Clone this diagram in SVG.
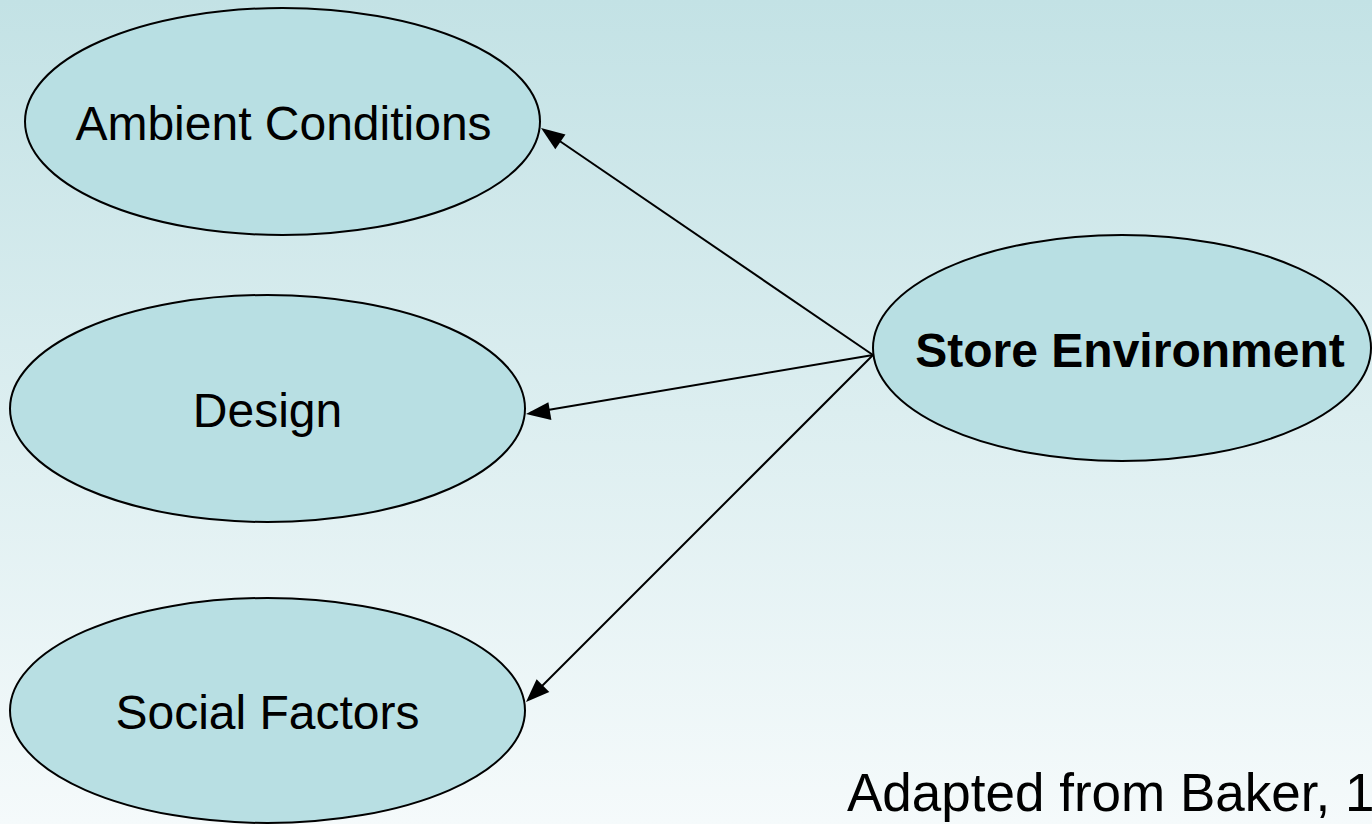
<svg xmlns="http://www.w3.org/2000/svg" width="1372" height="824" viewBox="0 0 1372 824">
<defs>
<linearGradient id="bg" x1="0" y1="0" x2="0" y2="1">
<stop offset="0" stop-color="#c3e2e5"/>
<stop offset="1" stop-color="#f5fafb"/>
</linearGradient>
<style>
.node{fill:#b8dfe3;stroke:#000;stroke-width:2}
.lbl{font-family:"Liberation Sans",Arial,sans-serif;font-size:48px;fill:#000;text-anchor:middle}
.edge{stroke:#000;stroke-width:2;fill:none}
.head{fill:#000}
</style>
</defs>
<rect width="1372" height="824" fill="url(#bg)"/>
<g id="connectors">
<line class="edge" x1="873" y1="355" x2="545" y2="131"/>
<line class="edge" x1="873" y1="355" x2="530" y2="413"/>
<line class="edge" x1="873" y1="355" x2="529" y2="699"/>
<path class="head" d="M541,128 L565.5,134.4 L555.3,149.3 z"/>
<path class="head" d="M526,414 L548.4,402.2 L551.4,420.0 z"/>
<path class="head" d="M526,702 L536.6,679.2 L549.3,691.9 z"/>
</g>
<g id="ambient">
<ellipse class="node" cx="282.5" cy="121.5" rx="257.5" ry="113.5"/>
<text class="lbl" x="283.5" y="140">Ambient Conditions</text>
</g>
<g id="design">
<ellipse class="node" cx="267.5" cy="408.5" rx="257.5" ry="113.5"/>
<text class="lbl" x="267.5" y="427">Design</text>
</g>
<g id="social">
<ellipse class="node" cx="267.5" cy="710.5" rx="257.5" ry="112.5"/>
<text class="lbl" x="267.5" y="729">Social Factors</text>
</g>
<g id="store">
<ellipse class="node" cx="1122" cy="348" rx="249" ry="113"/>
<text class="lbl" x="1130" y="367" style="font-weight:bold">Store Environment</text>
</g>
<text x="847" y="811" style="font-family:'Liberation Sans',Arial,sans-serif;font-size:53px;fill:#000">Adapted from Baker, 1</text>
</svg>
